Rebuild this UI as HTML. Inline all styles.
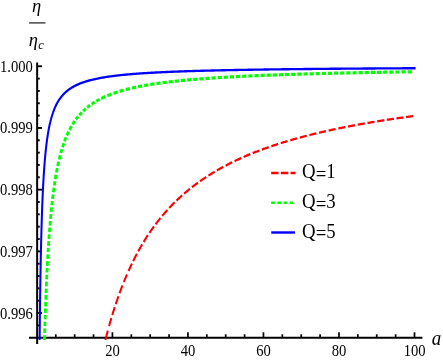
<!DOCTYPE html>
<html><head><meta charset="utf-8"><style>
html,body{margin:0;padding:0;background:#fff;overflow:hidden;}
svg{display:block;font-family:"Liberation Serif",serif;}
</style></head><body>
<svg width="443" height="360" viewBox="0 0 443 360">
<rect width="443" height="360" fill="#fff"/>
<g stroke="#000" stroke-width="2.0" fill="none">
<line x1="29" y1="337.7" x2="422.4" y2="337.7"/>
<line x1="37.15" y1="62.5" x2="37.15" y2="344"/>
<line x1="55.78" y1="337.7" x2="55.78" y2="334.3" stroke-width="1.7"/>
<line x1="74.66" y1="337.7" x2="74.66" y2="334.3" stroke-width="1.7"/>
<line x1="93.54" y1="337.7" x2="93.54" y2="334.3" stroke-width="1.7"/>
<line x1="112.42" y1="337.7" x2="112.42" y2="332.3" stroke-width="1.7"/>
<line x1="131.30" y1="337.7" x2="131.30" y2="334.3" stroke-width="1.7"/>
<line x1="150.18" y1="337.7" x2="150.18" y2="334.3" stroke-width="1.7"/>
<line x1="169.06" y1="337.7" x2="169.06" y2="334.3" stroke-width="1.7"/>
<line x1="187.94" y1="337.7" x2="187.94" y2="332.3" stroke-width="1.7"/>
<line x1="206.82" y1="337.7" x2="206.82" y2="334.3" stroke-width="1.7"/>
<line x1="225.70" y1="337.7" x2="225.70" y2="334.3" stroke-width="1.7"/>
<line x1="244.58" y1="337.7" x2="244.58" y2="334.3" stroke-width="1.7"/>
<line x1="263.46" y1="337.7" x2="263.46" y2="332.3" stroke-width="1.7"/>
<line x1="282.34" y1="337.7" x2="282.34" y2="334.3" stroke-width="1.7"/>
<line x1="301.22" y1="337.7" x2="301.22" y2="334.3" stroke-width="1.7"/>
<line x1="320.10" y1="337.7" x2="320.10" y2="334.3" stroke-width="1.7"/>
<line x1="338.98" y1="337.7" x2="338.98" y2="332.3" stroke-width="1.7"/>
<line x1="357.86" y1="337.7" x2="357.86" y2="334.3" stroke-width="1.7"/>
<line x1="376.74" y1="337.7" x2="376.74" y2="334.3" stroke-width="1.7"/>
<line x1="395.62" y1="337.7" x2="395.62" y2="334.3" stroke-width="1.7"/>
<line x1="414.50" y1="337.7" x2="414.50" y2="332.3" stroke-width="1.7"/>
<line x1="37.15" y1="66.25" x2="42.05" y2="66.25" stroke-width="1.9"/>
<line x1="37.15" y1="78.59" x2="39.75" y2="78.59" stroke-width="1.9"/>
<line x1="37.15" y1="90.93" x2="39.75" y2="90.93" stroke-width="1.9"/>
<line x1="37.15" y1="103.27" x2="39.75" y2="103.27" stroke-width="1.9"/>
<line x1="37.15" y1="115.61" x2="39.75" y2="115.61" stroke-width="1.9"/>
<line x1="37.15" y1="127.95" x2="42.05" y2="127.95" stroke-width="1.9"/>
<line x1="37.15" y1="140.29" x2="39.75" y2="140.29" stroke-width="1.9"/>
<line x1="37.15" y1="152.63" x2="39.75" y2="152.63" stroke-width="1.9"/>
<line x1="37.15" y1="164.97" x2="39.75" y2="164.97" stroke-width="1.9"/>
<line x1="37.15" y1="177.31" x2="39.75" y2="177.31" stroke-width="1.9"/>
<line x1="37.15" y1="189.65" x2="42.05" y2="189.65" stroke-width="1.9"/>
<line x1="37.15" y1="201.99" x2="39.75" y2="201.99" stroke-width="1.9"/>
<line x1="37.15" y1="214.33" x2="39.75" y2="214.33" stroke-width="1.9"/>
<line x1="37.15" y1="226.67" x2="39.75" y2="226.67" stroke-width="1.9"/>
<line x1="37.15" y1="239.01" x2="39.75" y2="239.01" stroke-width="1.9"/>
<line x1="37.15" y1="251.35" x2="42.05" y2="251.35" stroke-width="1.9"/>
<line x1="37.15" y1="263.69" x2="39.75" y2="263.69" stroke-width="1.9"/>
<line x1="37.15" y1="276.03" x2="39.75" y2="276.03" stroke-width="1.9"/>
<line x1="37.15" y1="288.37" x2="39.75" y2="288.37" stroke-width="1.9"/>
<line x1="37.15" y1="300.71" x2="39.75" y2="300.71" stroke-width="1.9"/>
<line x1="37.15" y1="313.05" x2="42.05" y2="313.05" stroke-width="1.9"/>
<line x1="37.15" y1="325.39" x2="39.75" y2="325.39" stroke-width="1.9"/>
</g>
<g fill="none" stroke-linejoin="round" transform="scale(1,1.14)">
<path d="M105.41,298.25 L105.63,297.49 L105.84,296.74 L106.06,295.99 L106.28,295.24 L106.50,294.49 L106.72,293.74 L106.94,292.99 L107.17,292.25 L107.39,291.50 L107.62,290.75 L107.85,290.00 M109.05,286.13 L109.26,285.48 L109.46,284.84 L109.67,284.20 L109.88,283.55 L110.08,282.91 L110.29,282.27 L110.50,281.63 L110.72,280.98 L110.93,280.34 L111.14,279.70 L111.36,279.06 M112.26,276.41 L112.48,275.78 L112.71,275.14 L112.93,274.50 L113.15,273.86 L113.38,273.23 L113.61,272.59 L113.83,271.95 L114.06,271.32 L114.29,270.68 L114.53,270.05 L114.76,269.42 M115.74,266.80 L115.97,266.17 L116.21,265.54 L116.46,264.91 L116.70,264.28 L116.94,263.65 L117.19,263.02 L117.44,262.39 L117.68,261.76 L117.93,261.14 L118.18,260.51 L118.44,259.89 M119.53,257.21 L119.79,256.58 L120.05,255.96 L120.31,255.34 L120.58,254.72 L120.84,254.10 L121.11,253.48 L121.38,252.86 L121.64,252.25 L121.91,251.63 L122.19,251.01 L122.46,250.40 M123.82,247.38 L124.10,246.77 L124.39,246.16 L124.67,245.55 L124.96,244.94 L125.25,244.33 L125.54,243.72 L125.83,243.12 L126.12,242.51 L126.41,241.91 L126.71,241.30 L127.00,240.70 M128.49,237.75 L128.79,237.15 L129.10,236.55 L129.41,235.95 L129.72,235.36 L130.03,234.76 L130.35,234.17 L130.66,233.58 L130.98,232.99 L131.30,232.39 L131.62,231.81 L131.94,231.22 M133.16,229.02 L133.49,228.43 L133.83,227.85 L134.16,227.27 L134.49,226.69 L134.83,226.11 L135.17,225.53 L135.51,224.95 L135.85,224.37 L136.19,223.80 L136.54,223.22 L136.89,222.65 M138.20,220.51 L138.56,219.94 L138.92,219.38 L139.28,218.81 L139.64,218.25 L140.00,217.69 L140.36,217.13 L140.73,216.57 L141.09,216.01 L141.46,215.45 L141.83,214.89 L142.21,214.34 M143.62,212.27 L144.00,211.72 L144.39,211.17 L144.77,210.63 L145.16,210.08 L145.54,209.54 L145.93,209.00 L146.33,208.46 L146.72,207.92 L147.11,207.38 L147.51,206.85 L147.91,206.31 M149.42,204.32 L149.83,203.79 L150.24,203.27 L150.65,202.74 L151.06,202.22 L151.48,201.70 L151.89,201.18 L152.31,200.66 L152.73,200.15 L153.15,199.63 L153.57,199.12 L154.00,198.61 M155.64,196.66 L156.08,196.16 L156.51,195.66 L156.95,195.16 L157.39,194.66 L157.83,194.16 L158.27,193.67 L158.71,193.17 L159.16,192.68 L159.60,192.19 L160.05,191.70 L160.50,191.21 M162.24,189.37 L162.70,188.89 L163.16,188.41 L163.62,187.94 L164.09,187.46 L164.55,186.99 L165.02,186.52 L165.49,186.05 L165.96,185.59 L166.43,185.13 L166.90,184.66 L167.38,184.20 M169.21,182.46 L169.69,182.00 L170.18,181.55 L170.66,181.11 L171.15,180.66 L171.64,180.22 L172.13,179.77 L172.62,179.33 L173.11,178.89 L173.61,178.46 L174.10,178.02 L174.60,177.59 M176.49,175.97 L177.00,175.55 L177.50,175.12 L178.01,174.70 L178.52,174.28 L179.03,173.87 L179.54,173.45 L180.05,173.04 L180.56,172.63 L181.08,172.22 L181.60,171.81 L182.11,171.41 M184.08,169.89 L184.61,169.49 L185.13,169.10 L185.66,168.71 L186.19,168.32 L186.72,167.93 L187.25,167.54 L187.78,167.15 L188.31,166.77 L188.84,166.39 L189.38,166.01 L189.92,165.63 M191.95,164.22 L192.49,163.85 L193.04,163.48 L193.58,163.11 L194.13,162.75 L194.67,162.39 L195.22,162.03 L195.77,161.67 L196.32,161.31 L196.87,160.96 L197.42,160.60 L197.97,160.25 M200.07,158.94 L200.63,158.60 L201.18,158.26 L201.74,157.92 L202.30,157.58 L202.86,157.24 L203.43,156.91 L203.99,156.57 L204.55,156.24 L205.12,155.91 L205.68,155.59 L206.25,155.26 M208.40,154.04 L208.97,153.73 L209.54,153.41 L210.11,153.09 L210.68,152.78 L211.26,152.47 L211.83,152.16 L212.41,151.85 L212.98,151.55 L213.56,151.24 L214.14,150.94 L214.71,150.64 M216.91,149.51 L217.49,149.21 L218.07,148.92 L218.65,148.63 L219.24,148.34 L219.82,148.05 L220.41,147.76 L220.99,147.48 L221.58,147.20 L222.17,146.91 L222.75,146.63 L223.34,146.35 M225.68,145.26 L226.27,144.99 L226.86,144.72 L227.45,144.45 L228.05,144.18 L228.64,143.92 L229.23,143.65 L229.83,143.39 L230.42,143.12 L231.02,142.86 L231.62,142.60 L232.21,142.35 M234.58,141.34 L235.18,141.09 L235.78,140.84 L236.38,140.59 L236.98,140.34 L237.58,140.09 L238.18,139.85 L238.79,139.60 L239.39,139.36 L239.99,139.12 L240.60,138.88 L241.20,138.64 M243.60,137.71 L244.20,137.47 L244.81,137.24 L245.42,137.01 L246.02,136.78 L246.63,136.56 L247.24,136.33 L247.85,136.10 L248.46,135.88 L249.07,135.65 L249.68,135.43 L250.29,135.21 M252.70,134.35 L253.32,134.13 L253.93,133.92 L254.54,133.70 L255.16,133.49 L255.77,133.28 L256.38,133.07 L257.00,132.86 L257.61,132.65 L258.23,132.45 L258.84,132.24 L259.46,132.04 M261.89,131.23 L262.51,131.03 L263.13,130.84 L263.74,130.64 L264.36,130.44 L264.98,130.24 L265.60,130.05 L266.22,129.86 L266.84,129.66 L267.46,129.47 L268.07,129.28 L268.69,129.09 M271.30,128.30 L271.92,128.12 L272.54,127.93 L273.16,127.75 L273.78,127.57 L274.40,127.38 L275.02,127.20 L275.65,127.02 L276.27,126.84 L276.89,126.66 L277.52,126.49 L278.14,126.31 M280.75,125.58 L281.38,125.41 L282.00,125.24 L282.63,125.06 L283.25,124.89 L283.88,124.73 L284.50,124.56 L285.13,124.39 L285.75,124.22 L286.38,124.06 L287.01,123.89 L287.63,123.73 M290.26,123.05 L290.89,122.89 L291.52,122.73 L292.14,122.57 L292.77,122.41 L293.40,122.25 L294.03,122.10 L294.66,121.94 L295.28,121.79 L295.91,121.63 L296.54,121.48 L297.17,121.32 M299.81,120.69 L300.44,120.54 L301.07,120.39 L301.70,120.24 L302.33,120.10 L302.96,119.95 L303.59,119.80 L304.22,119.66 L304.85,119.51 L305.48,119.37 L306.11,119.22 L306.74,119.08 M309.39,118.49 L310.02,118.35 L310.65,118.21 L311.28,118.07 L311.92,117.93 L312.55,117.80 L313.18,117.66 L313.81,117.52 L314.45,117.39 L315.08,117.25 L315.71,117.12 L316.34,116.99 M319.00,116.43 L319.63,116.30 L320.27,116.17 L320.90,116.04 L321.53,115.91 L322.17,115.78 L322.80,115.66 L323.43,115.53 L324.07,115.40 L324.70,115.28 L325.34,115.15 L325.97,115.03 M328.65,114.50 L329.28,114.38 L329.92,114.26 L330.55,114.14 L331.19,114.02 L331.82,113.90 L332.46,113.78 L333.10,113.66 L333.73,113.54 L334.37,113.42 L335.00,113.30 L335.64,113.18 M338.32,112.69 L338.96,112.58 L339.59,112.46 L340.23,112.35 L340.87,112.24 L341.50,112.12 L342.14,112.01 L342.78,111.90 L343.41,111.79 L344.05,111.68 L344.69,111.57 L345.32,111.46 M348.01,110.99 L348.65,110.89 L349.28,110.78 L349.92,110.67 L350.56,110.56 L351.20,110.46 L351.83,110.35 L352.47,110.25 L353.11,110.14 L353.75,110.04 L354.38,109.93 L355.02,109.83 M357.71,109.39 L358.35,109.29 L358.99,109.19 L359.63,109.09 L360.27,108.99 L360.91,108.89 L361.54,108.79 L362.18,108.69 L362.82,108.59 L363.46,108.49 L364.10,108.39 L364.74,108.30 M367.48,107.88 L368.12,107.78 L368.76,107.69 L369.40,107.59 L370.04,107.50 L370.68,107.40 L371.32,107.31 L371.96,107.22 L372.60,107.12 L373.23,107.03 L373.87,106.94 L374.51,106.84 M377.26,106.45 L377.90,106.36 L378.54,106.27 L379.18,106.18 L379.82,106.09 L380.46,106.00 L381.10,105.91 L381.74,105.82 L382.38,105.73 L383.02,105.65 L383.66,105.56 L384.30,105.47 M386.85,105.13 L387.49,105.04 L388.13,104.95 L388.77,104.87 L389.41,104.78 L390.05,104.70 L390.69,104.61 L391.33,104.53 L391.98,104.45 L392.62,104.36 L393.26,104.28 L393.90,104.20 M396.45,103.87 L397.09,103.79 L397.73,103.71 L398.37,103.63 L399.01,103.55 L399.66,103.47 L400.30,103.39 L400.94,103.31 L401.58,103.23 L402.22,103.15 L402.86,103.07 L403.50,102.99 M406.06,102.68 L406.70,102.60 L407.34,102.52 L407.98,102.45 L408.62,102.37 L409.26,102.30 L409.91,102.22 L410.55,102.14 L411.19,102.07 L411.83,101.99 L412.47,101.92 L413.11,101.84" stroke="#ff0000" stroke-width="2.0"/>
<path d="M44.47,298.25 L44.49,297.66 L44.51,297.07 L44.53,296.48 L44.55,295.89 L44.57,295.31 L44.59,294.72 L44.61,294.13 M44.67,292.15 L44.69,291.56 L44.71,290.97 L44.73,290.39 L44.75,289.80 L44.77,289.21 L44.79,288.62 L44.81,288.03 M44.88,286.05 L44.90,285.49 L44.92,284.92 L44.94,284.35 L44.96,283.79 L44.98,283.22 L45.00,282.65 L45.02,282.09 M45.09,280.18 L45.11,279.63 L45.13,279.08 L45.15,278.53 L45.17,277.98 L45.19,277.43 L45.21,276.88 L45.24,276.33 M45.31,274.47 L45.33,273.92 L45.35,273.37 L45.37,272.82 L45.39,272.27 L45.41,271.72 L45.44,271.17 L45.46,270.62 M45.53,268.77 L45.56,268.21 L45.58,267.64 L45.60,267.07 L45.63,266.50 L45.65,265.94 L45.68,265.37 L45.70,264.80 M45.78,262.89 L45.81,262.33 L45.83,261.76 L45.86,261.19 L45.88,260.63 L45.91,260.06 L45.93,259.49 L45.96,258.93 M46.04,257.02 L46.07,256.46 L46.10,255.90 L46.12,255.34 L46.15,254.78 L46.17,254.23 L46.20,253.67 L46.23,253.11 M46.32,251.23 L46.35,250.64 L46.38,250.04 L46.41,249.45 L46.44,248.86 L46.47,248.27 L46.50,247.68 L46.53,247.08 M46.63,245.09 L46.66,244.50 L46.69,243.92 L46.72,243.34 L46.75,242.75 L46.78,242.17 L46.81,241.59 L46.85,241.00 M46.95,239.04 L46.98,238.47 L47.02,237.90 L47.05,237.33 L47.08,236.77 L47.11,236.20 L47.15,235.63 L47.18,235.07 M47.29,233.16 L47.33,232.57 L47.36,231.99 L47.40,231.41 L47.43,230.82 L47.47,230.24 L47.50,229.66 L47.54,229.07 M47.66,227.11 L47.70,226.54 L47.74,225.97 L47.77,225.40 L47.81,224.84 L47.85,224.27 L47.88,223.70 L47.92,223.14 M48.05,221.23 L48.09,220.69 L48.13,220.15 L48.16,219.60 L48.20,219.06 L48.24,218.52 L48.28,217.98 L48.32,217.44 M48.45,215.61 L48.49,215.04 L48.53,214.46 L48.58,213.89 L48.62,213.31 L48.66,212.74 L48.71,212.16 L48.75,211.59 M48.90,209.65 L48.95,209.06 L49.00,208.46 L49.05,207.87 L49.09,207.28 L49.14,206.69 L49.19,206.10 L49.24,205.50 M49.41,203.51 L49.46,202.96 L49.51,202.41 L49.55,201.86 L49.60,201.31 L49.65,200.76 L49.70,200.21 L49.75,199.66 M49.92,197.81 L49.97,197.24 L50.03,196.67 L50.08,196.11 L50.14,195.54 L50.19,194.97 L50.25,194.41 L50.30,193.84 M50.49,191.93 L50.55,191.35 L50.61,190.76 L50.67,190.18 L50.73,189.59 L50.80,189.01 L50.86,188.43 L50.92,187.84 M51.14,185.88 L51.20,185.31 L51.26,184.74 L51.33,184.18 L51.39,183.61 L51.46,183.04 L51.53,182.48 L51.59,181.91 M51.82,180.00 L51.89,179.48 L51.95,178.95 L52.02,178.43 L52.08,177.90 L52.15,177.38 L52.22,176.85 L52.29,176.33 M52.52,174.56 L52.60,173.99 L52.67,173.43 L52.75,172.86 L52.83,172.29 L52.91,171.73 L52.99,171.16 L53.07,170.59 M53.35,168.68 L53.43,168.12 L53.52,167.55 L53.61,166.98 L53.69,166.42 L53.78,165.85 L53.87,165.28 L53.96,164.72 M54.27,162.81 L54.36,162.27 L54.46,161.72 L54.55,161.18 L54.64,160.64 L54.73,160.10 L54.83,159.56 L54.93,159.02 M55.26,157.19 L55.36,156.63 L55.47,156.06 L55.58,155.49 L55.69,154.92 L55.80,154.36 L55.91,153.79 L56.02,153.22 M56.42,151.32 L56.53,150.76 L56.65,150.21 L56.77,149.66 L56.89,149.11 L57.01,148.56 L57.13,148.01 L57.26,147.46 M57.69,145.61 L57.82,145.06 L57.95,144.51 L58.09,143.96 L58.22,143.41 L58.36,142.86 L58.50,142.31 L58.64,141.76 M59.14,139.91 L59.28,139.37 L59.44,138.83 L59.59,138.28 L59.74,137.74 L59.90,137.20 L60.06,136.66 L60.22,136.12 M60.77,134.30 L60.93,133.80 L61.09,133.31 L61.25,132.81 L61.41,132.32 L61.58,131.82 L61.74,131.33 L61.91,130.83 M62.50,129.17 L62.68,128.67 L62.87,128.16 L63.06,127.66 L63.25,127.15 L63.44,126.65 L63.64,126.14 L63.84,125.64 M64.53,123.95 L64.74,123.46 L64.95,122.96 L65.17,122.46 L65.39,121.97 L65.61,121.47 L65.83,120.98 L66.06,120.49 M66.86,118.83 L67.10,118.35 L67.34,117.87 L67.59,117.39 L67.84,116.91 L68.09,116.43 L68.35,115.95 L68.61,115.48 M69.51,113.88 L69.79,113.42 L70.07,112.96 L70.35,112.49 L70.63,112.03 L70.92,111.58 L71.21,111.12 L71.51,110.67 M72.54,109.15 L72.84,108.73 L73.14,108.30 L73.45,107.88 L73.76,107.47 L74.07,107.05 L74.39,106.64 L74.71,106.22 M75.82,104.85 L76.14,104.47 L76.46,104.09 L76.79,103.72 L77.12,103.34 L77.45,102.97 L77.79,102.60 L78.13,102.23 M79.30,101.01 L79.65,100.66 L80.00,100.31 L80.36,99.97 L80.72,99.63 L81.08,99.29 L81.44,98.95 L81.81,98.61 M83.08,97.50 L83.46,97.18 L83.84,96.86 L84.23,96.54 L84.62,96.23 L85.02,95.92 L85.41,95.61 L85.81,95.30 M87.18,94.29 L87.59,94.00 L88.00,93.71 L88.42,93.42 L88.84,93.13 L89.26,92.85 L89.69,92.57 L90.11,92.30 M91.57,91.39 L92.01,91.12 L92.45,90.86 L92.90,90.60 L93.35,90.34 L93.79,90.08 L94.25,89.83 L94.70,89.58 M96.24,88.76 L96.72,88.52 L97.19,88.28 L97.67,88.04 L98.15,87.81 L98.63,87.58 L99.12,87.35 L99.60,87.12 M101.25,86.38 L101.83,86.13 L102.42,85.88 L103.00,85.63 L103.59,85.39 L104.18,85.15 L104.77,84.91 L105.36,84.68 M107.38,83.92 L107.96,83.71 L108.55,83.50 L109.14,83.29 L109.72,83.09 L110.31,82.89 L110.91,82.69 L111.50,82.50 M113.50,81.86 L114.09,81.68 L114.68,81.50 L115.27,81.32 L115.86,81.15 L116.45,80.98 L117.04,80.81 L117.63,80.64 M119.63,80.10 L120.22,79.94 L120.81,79.79 L121.40,79.64 L121.99,79.49 L122.58,79.34 L123.17,79.20 L123.76,79.05 M125.76,78.58 L126.35,78.45 L126.94,78.32 L127.53,78.18 L128.12,78.05 L128.71,77.93 L129.30,77.80 L129.89,77.67 M131.88,77.26 L132.47,77.15 L133.06,77.03 L133.65,76.91 L134.24,76.80 L134.83,76.69 L135.43,76.57 L136.02,76.46 M138.01,76.10 L138.60,76.00 L139.19,75.90 L139.78,75.79 L140.37,75.69 L140.96,75.59 L141.55,75.49 L142.14,75.40 M144.14,75.07 L144.73,74.98 L145.32,74.89 L145.91,74.80 L146.50,74.71 L147.09,74.62 L147.68,74.53 L148.27,74.45 M150.27,74.16 L150.86,74.08 L151.45,73.99 L152.04,73.91 L152.63,73.83 L153.22,73.75 L153.81,73.67 L154.40,73.59 M156.39,73.34 L156.98,73.26 L157.57,73.19 L158.16,73.11 L158.75,73.04 L159.35,72.97 L159.94,72.90 L160.53,72.83 M162.52,72.59 L163.11,72.53 L163.70,72.46 L164.29,72.39 L164.88,72.33 L165.47,72.26 L166.06,72.20 L166.65,72.13 M168.65,71.92 L169.24,71.86 L169.83,71.80 L170.42,71.74 L171.01,71.68 L171.60,71.62 L172.19,71.56 L172.78,71.50 M174.77,71.31 L175.36,71.25 L175.96,71.19 L176.55,71.14 L177.14,71.08 L177.73,71.03 L178.32,70.98 L178.91,70.92 M180.90,70.75 L181.49,70.69 L182.08,70.64 L182.67,70.59 L183.26,70.54 L183.85,70.49 L184.45,70.44 L185.04,70.39 M187.03,70.23 L187.62,70.18 L188.21,70.13 L188.80,70.09 L189.39,70.04 L189.98,70.00 L190.57,69.95 L191.16,69.90 M193.15,69.75 L193.75,69.71 L194.34,69.67 L194.93,69.62 L195.52,69.58 L196.11,69.54 L196.70,69.50 L197.29,69.45 M199.28,69.32 L199.87,69.27 L200.46,69.23 L201.05,69.19 L201.64,69.15 L202.24,69.12 L202.83,69.08 L203.42,69.04 M205.41,68.91 L206.00,68.87 L206.59,68.83 L207.18,68.80 L207.77,68.76 L208.36,68.72 L208.95,68.69 L209.54,68.65 M211.54,68.53 L212.13,68.49 L212.72,68.46 L213.31,68.42 L213.90,68.39 L214.49,68.36 L215.08,68.32 L215.67,68.29 M217.66,68.18 L218.25,68.14 L218.84,68.11 L219.44,68.08 L220.03,68.05 L220.62,68.01 L221.21,67.98 L221.80,67.95 M223.79,67.85 L224.38,67.82 L224.97,67.79 L225.56,67.75 L226.15,67.72 L226.74,67.69 L227.33,67.67 L227.93,67.64 M229.92,67.54 L230.51,67.51 L231.10,67.48 L231.69,67.45 L232.28,67.42 L232.87,67.40 L233.46,67.37 L234.05,67.34 M236.04,67.25 L236.63,67.22 L237.23,67.19 L237.82,67.17 L238.41,67.14 L239.00,67.11 L239.59,67.09 L240.18,67.06 M242.17,66.97 L242.76,66.95 L243.35,66.92 L243.94,66.90 L244.53,66.87 L245.12,66.85 L245.72,66.82 L246.31,66.80 M248.30,66.72 L248.89,66.69 L249.48,66.67 L250.07,66.65 L250.66,66.62 L251.25,66.60 L251.84,66.58 L252.43,66.55 M254.42,66.48 L255.02,66.45 L255.61,66.43 L256.20,66.41 L256.79,66.39 L257.38,66.36 L257.97,66.34 L258.56,66.32 M260.55,66.25 L261.14,66.23 L261.73,66.20 L262.32,66.18 L262.92,66.16 L263.51,66.14 L264.10,66.12 L264.69,66.10 M266.68,66.03 L267.27,66.01 L267.86,65.99 L268.45,65.97 L269.04,65.95 L269.63,65.93 L270.22,65.91 L270.81,65.89 M272.81,65.82 L273.40,65.80 L273.99,65.79 L274.58,65.77 L275.17,65.75 L275.76,65.73 L276.35,65.71 L276.94,65.69 M278.93,65.63 L279.52,65.61 L280.11,65.59 L280.71,65.57 L281.30,65.56 L281.89,65.54 L282.48,65.52 L283.07,65.50 M285.06,65.44 L285.65,65.43 L286.24,65.41 L286.83,65.39 L287.42,65.37 L288.01,65.36 L288.60,65.34 L289.20,65.32 M291.19,65.27 L291.78,65.25 L292.37,65.23 L292.96,65.22 L293.55,65.20 L294.14,65.18 L294.73,65.17 L295.32,65.15 M297.31,65.10 L297.90,65.08 L298.50,65.07 L299.09,65.05 L299.68,65.04 L300.27,65.02 L300.86,65.00 L301.45,64.99 M303.44,64.94 L304.03,64.92 L304.62,64.91 L305.21,64.89 L305.80,64.88 L306.40,64.86 L306.99,64.85 L307.58,64.83 M309.57,64.78 L310.16,64.77 L310.75,64.76 L311.34,64.74 L311.93,64.73 L312.52,64.71 L313.11,64.70 L313.70,64.69 M315.69,64.64 L316.29,64.62 L316.88,64.61 L317.47,64.60 L318.06,64.58 L318.65,64.57 L319.24,64.56 L319.83,64.54 M321.82,64.50 L322.41,64.48 L323.00,64.47 L323.59,64.46 L324.19,64.45 L324.78,64.43 L325.37,64.42 L325.96,64.41 M327.95,64.36 L328.54,64.35 L329.13,64.34 L329.72,64.33 L330.31,64.31 L330.90,64.30 L331.49,64.29 L332.08,64.28 M334.08,64.23 L334.67,64.22 L335.26,64.21 L335.85,64.20 L336.44,64.19 L337.03,64.17 L337.62,64.16 L338.21,64.15 M340.20,64.11 L340.79,64.10 L341.38,64.09 L341.98,64.08 L342.57,64.06 L343.16,64.05 L343.75,64.04 L344.34,64.03 M346.33,63.99 L346.92,63.98 L347.51,63.97 L348.10,63.96 L348.69,63.95 L349.28,63.94 L349.87,63.93 L350.47,63.91 M352.46,63.88 L353.05,63.87 L353.64,63.86 L354.23,63.85 L354.82,63.84 L355.41,63.82 L356.00,63.81 L356.59,63.80 M358.58,63.77 L359.17,63.76 L359.77,63.75 L360.36,63.74 L360.95,63.73 L361.54,63.72 L362.13,63.71 L362.72,63.70 M364.71,63.66 L365.30,63.65 L365.89,63.64 L366.48,63.63 L367.07,63.62 L367.67,63.61 L368.26,63.60 L368.85,63.59 M370.84,63.56 L371.43,63.55 L372.02,63.54 L372.61,63.53 L373.20,63.52 L373.79,63.51 L374.38,63.50 L374.97,63.49 M376.97,63.46 L377.56,63.45 L378.15,63.44 L378.74,63.43 L379.33,63.43 L379.92,63.42 L380.51,63.41 L381.10,63.40 M383.09,63.37 L383.68,63.36 L384.27,63.35 L384.86,63.34 L385.46,63.33 L386.05,63.32 L386.64,63.31 L387.23,63.31 M389.22,63.28 L389.81,63.27 L390.40,63.26 L390.99,63.25 L391.58,63.24 L392.17,63.23 L392.76,63.23 L393.35,63.22 M395.35,63.19 L395.94,63.18 L396.53,63.17 L397.12,63.16 L397.71,63.16 L398.30,63.15 L398.89,63.14 L399.48,63.13 M401.47,63.10 L402.06,63.10 L402.65,63.09 L403.25,63.08 L403.84,63.07 L404.43,63.06 L405.02,63.06 L405.61,63.05 M407.60,63.02 L408.19,63.01 L408.78,63.01 L409.37,63.00 L409.96,62.99 L410.56,62.98 L411.15,62.97 L411.74,62.97" stroke="#00ff00" stroke-width="2.8"/>
<path d="M39.62,298.25 L39.63,297.56 L39.73,289.58 L39.82,282.11 L39.91,275.12 L40.01,268.54 L40.10,262.35 L40.20,256.52 L40.29,251.01 L40.38,245.79 L40.48,240.86 L40.57,236.17 L40.67,231.72 L40.76,227.49 L40.86,223.45 L40.95,219.61 L41.04,215.94 L41.14,212.43 L41.23,209.08 L41.33,205.87 L41.42,202.79 L41.51,199.84 L41.61,197.00 L41.70,194.28 L41.80,191.66 L41.89,189.14 L41.99,186.72 L42.08,184.38 L42.17,182.12 L42.27,179.95 L42.36,177.85 L42.46,175.82 L42.55,173.86 L42.64,171.96 L42.74,170.12 L42.83,168.35 L42.93,166.62 L43.02,164.95 L43.12,163.34 L43.21,161.76 L43.30,160.24 L43.40,158.76 L43.49,157.32 L43.59,155.93 L43.68,154.57 L43.77,153.25 L43.87,151.96 L43.96,150.71 L44.06,149.49 L44.15,148.30 L44.25,147.15 L44.34,146.02 L44.43,144.92 L44.53,143.85 L44.62,142.81 L44.72,141.79 L44.81,140.79 L44.90,139.82 L45.00,138.87 L45.09,137.94 L45.19,137.03 L45.28,136.14 L45.38,135.28 L45.47,134.43 L45.56,133.60 L45.66,132.79 L45.75,131.99 L45.85,131.22 L45.94,130.46 L46.03,129.71 L46.13,128.98 L46.22,128.26 L46.32,127.56 L46.41,126.87 L46.51,126.20 L46.60,125.54 L46.69,124.89 L46.79,124.25 L46.88,123.63 L46.98,123.02 L47.07,122.42 L47.16,121.83 L47.26,121.25 L47.35,120.68 L47.45,120.12 L47.54,119.57 L47.64,119.03 L47.73,118.50 L47.82,117.98 L47.92,117.47 L48.01,116.97 L48.11,116.47 L48.20,115.99 L48.29,115.51 L48.39,115.04 L48.48,114.58 L48.58,114.12 L48.67,113.67 L48.77,113.23 L48.86,112.80 L48.95,112.37 L49.05,111.95 L49.14,111.54 L49.24,111.13 L49.33,110.73 L49.42,110.33 L49.52,109.94 L49.61,109.56 L49.71,109.18 L49.80,108.81 L49.90,108.44 L49.99,108.08 L50.08,107.72 L50.18,107.37 L50.27,107.02 L50.37,106.68 L50.46,106.34 L50.55,106.01 L50.65,105.68 L50.74,105.36 L50.84,105.04 L50.93,104.72 L51.02,104.41 L51.12,104.11 L51.21,103.80 L51.31,103.51 L51.40,103.21 L51.50,102.92 L51.59,102.63 L51.68,102.35 L51.78,102.07 L51.87,101.79 L51.97,101.52 L52.06,101.25 L52.15,100.98 L52.25,100.72 L52.34,100.46 L52.44,100.20 L52.53,99.95 L52.63,99.70 L52.72,99.45 L52.81,99.21 L52.91,98.97 L53.00,98.73 L53.10,98.49 L53.19,98.26 L53.28,98.03 L53.38,97.80 L53.47,97.57 L53.57,97.35 L53.66,97.13 L53.76,96.91 L53.85,96.70 L53.94,96.48 L54.04,96.27 L54.13,96.06 L54.23,95.86 L54.32,95.65 L54.41,95.45 L54.51,95.25 L54.60,95.06 L54.70,94.86 L54.79,94.67 L54.89,94.47 L54.98,94.29 L55.07,94.10 L55.17,93.91 L55.26,93.73 L55.36,93.55 L55.45,93.37 L55.54,93.19 L55.64,93.01 L55.73,92.84 L55.83,92.67 L55.92,92.49 L56.02,92.33 L56.11,92.16 L56.20,91.99 L56.30,91.83 L56.39,91.66 L56.49,91.50 L56.58,91.34 L56.67,91.19 L56.77,91.03 L56.86,90.87 L56.96,90.72 L57.05,90.57 L57.15,90.42 L57.24,90.27 L57.33,90.12 L57.43,89.97 L57.52,89.83 L57.62,89.68 L57.71,89.54 L57.80,89.40 L57.90,89.26 L57.99,89.12 L58.09,88.98 L58.18,88.84 L58.28,88.71 L58.37,88.57 L58.46,88.44 L58.56,88.31 L58.65,88.18 L58.75,88.05 L58.84,87.92 L58.93,87.79 L59.03,87.67 L59.12,87.54 L59.22,87.42 L59.31,87.29 L59.41,87.17 L59.50,87.05 L59.59,86.93 L59.69,86.81 L59.78,86.69 L59.88,86.58 L59.97,86.46 L60.06,86.35 L60.16,86.23 L60.25,86.12 L60.35,86.01 L60.44,85.89 L60.54,85.78 L60.63,85.67 L60.72,85.56 L60.82,85.46 L60.91,85.35 L61.01,85.24 L61.10,85.14 L61.19,85.03 L61.29,84.93 L61.38,84.83 L61.48,84.72 L61.57,84.62 L61.67,84.52 L61.76,84.42 L61.85,84.32 L61.95,84.22 L62.04,84.13 L62.14,84.03 L62.23,83.93 L62.32,83.84 L62.42,83.74 L62.51,83.65 L62.61,83.55 L62.70,83.46 L62.80,83.37 L62.89,83.28 L62.98,83.19 L63.08,83.10 L63.17,83.01 L63.27,82.92 L63.36,82.83 L63.45,82.74 L63.55,82.65 L63.64,82.57 L63.74,82.48 L63.83,82.40 L63.93,82.31 L64.02,82.23 L64.11,82.15 L64.21,82.06 L64.30,81.98 L64.40,81.90 L64.49,81.82 L64.58,81.74 L64.68,81.66 L64.77,81.58 L64.87,81.50 L64.96,81.42 L65.06,81.34 L65.15,81.26 L65.24,81.19 L65.34,81.11 L65.43,81.03 L65.53,80.96 L65.62,80.88 L65.71,80.81 L65.81,80.74 L65.90,80.66 L66.00,80.59 L66.09,80.52 L66.19,80.45 L66.28,80.37 L66.37,80.30 L66.47,80.23 L66.56,80.16 L66.66,80.09 L66.75,80.02 L66.84,79.95 L66.94,79.89 L67.03,79.82 L67.13,79.75 L67.22,79.68 L67.32,79.62 L67.41,79.55 L67.50,79.48 L67.60,79.42 L67.69,79.35 L67.79,79.29 L67.88,79.22 L67.97,79.16 L68.07,79.10 L68.16,79.03 L68.26,78.97 L68.35,78.91 L68.45,78.85 L68.54,78.78 L68.63,78.72 L68.73,78.66 L68.82,78.60 L68.92,78.54 L69.01,78.48 L69.10,78.42 L69.20,78.36 L69.29,78.30 L69.39,78.24 L69.48,78.19 L69.58,78.13 L69.67,78.07 L69.76,78.01 L69.86,77.96 L69.95,77.90 L70.05,77.84 L70.14,77.79 L70.23,77.73 L70.33,77.68 L70.42,77.62 L70.52,77.57 L70.61,77.51 L70.71,77.46 L70.80,77.41 L70.89,77.35 L70.99,77.30 L71.08,77.25 L71.18,77.19 L71.27,77.14 L71.36,77.09 L71.46,77.04 L71.55,76.99 L71.65,76.94 L71.74,76.88 L71.84,76.83 L71.93,76.78 L72.02,76.73 L72.12,76.68 L72.21,76.63 L72.31,76.58 L72.40,76.54 L72.49,76.49 L72.59,76.44 L72.68,76.39 L72.78,76.34 L72.87,76.29 L72.97,76.25 L73.06,76.20 L73.15,76.15 L73.25,76.11 L73.34,76.06 L73.44,76.01 L73.53,75.97 L73.62,75.92 L73.72,75.88 L73.81,75.83 L73.91,75.79 L74.00,75.74 L74.10,75.70 L74.19,75.65 L74.28,75.61 L74.38,75.56 L74.47,75.52 L74.57,75.48 L74.66,75.43 L74.66,75.43 L75.80,74.93 L76.94,74.45 L78.08,73.99 L79.22,73.57 L80.36,73.16 L81.50,72.78 L82.64,72.41 L83.78,72.06 L84.92,71.73 L86.06,71.42 L87.20,71.12 L88.34,70.83 L89.48,70.55 L90.62,70.29 L91.76,70.03 L92.90,69.79 L94.04,69.56 L95.18,69.33 L96.32,69.12 L97.46,68.91 L98.60,68.71 L99.74,68.52 L100.88,68.34 L102.02,68.16 L103.16,67.98 L104.30,67.82 L105.44,67.66 L106.58,67.50 L107.72,67.35 L108.86,67.20 L110.00,67.06 L111.14,66.92 L112.28,66.79 L113.42,66.66 L114.56,66.53 L115.70,66.41 L116.84,66.29 L117.98,66.18 L119.12,66.07 L120.26,65.96 L121.41,65.85 L122.55,65.75 L123.69,65.65 L124.83,65.55 L125.97,65.46 L127.11,65.36 L128.25,65.27 L129.39,65.19 L130.53,65.10 L131.67,65.01 L132.81,64.93 L133.95,64.85 L135.09,64.77 L136.23,64.70 L137.37,64.62 L138.51,64.55 L139.65,64.48 L140.79,64.41 L141.93,64.34 L143.07,64.27 L144.21,64.21 L145.35,64.14 L146.49,64.08 L147.63,64.02 L148.77,63.96 L149.91,63.90 L151.05,63.84 L152.19,63.79 L153.33,63.73 L154.47,63.68 L155.61,63.62 L156.75,63.57 L157.89,63.52 L159.03,63.47 L160.17,63.42 L161.31,63.37 L162.45,63.32 L163.59,63.28 L164.73,63.23 L165.87,63.18 L167.01,63.14 L168.15,63.10 L169.29,63.05 L170.43,63.01 L171.57,62.97 L172.71,62.93 L173.85,62.89 L174.99,62.85 L176.13,62.81 L177.27,62.77 L178.41,62.74 L179.55,62.70 L180.69,62.66 L181.83,62.63 L182.97,62.59 L184.11,62.56 L185.25,62.52 L186.39,62.49 L187.53,62.46 L188.67,62.42 L189.81,62.39 L190.95,62.36 L192.09,62.33 L193.23,62.30 L194.37,62.27 L195.51,62.24 L196.65,62.21 L197.79,62.18 L198.93,62.15 L200.07,62.12 L201.21,62.09 L202.35,62.07 L203.49,62.04 L204.63,62.01 L205.77,61.99 L206.91,61.96 L208.05,61.94 L209.19,61.91 L210.33,61.88 L211.47,61.86 L212.62,61.84 L213.76,61.81 L214.90,61.79 L216.04,61.76 L217.18,61.74 L218.32,61.72 L219.46,61.70 L220.60,61.67 L221.74,61.65 L222.88,61.63 L224.02,61.61 L225.16,61.59 L226.30,61.57 L227.44,61.55 L228.58,61.53 L229.72,61.51 L230.86,61.49 L232.00,61.47 L233.14,61.45 L234.28,61.43 L235.42,61.41 L236.56,61.39 L237.70,61.37 L238.84,61.35 L239.98,61.33 L241.12,61.32 L242.26,61.30 L243.40,61.28 L244.54,61.26 L245.68,61.25 L246.82,61.23 L247.96,61.21 L249.10,61.20 L250.24,61.18 L251.38,61.16 L252.52,61.15 L253.66,61.13 L254.80,61.12 L255.94,61.10 L257.08,61.08 L258.22,61.07 L259.36,61.05 L260.50,61.04 L261.64,61.02 L262.78,61.01 L263.92,60.99 L265.06,60.98 L266.20,60.97 L267.34,60.95 L268.48,60.94 L269.62,60.92 L270.76,60.91 L271.90,60.90 L273.04,60.88 L274.18,60.87 L275.32,60.86 L276.46,60.84 L277.60,60.83 L278.74,60.82 L279.88,60.81 L281.02,60.79 L282.16,60.78 L283.30,60.77 L284.44,60.76 L285.58,60.74 L286.72,60.73 L287.86,60.72 L289.00,60.71 L290.14,60.70 L291.28,60.68 L292.42,60.67 L293.56,60.66 L294.70,60.65 L295.84,60.64 L296.98,60.63 L298.12,60.62 L299.26,60.61 L300.40,60.60 L301.54,60.59 L302.68,60.57 L303.83,60.56 L304.97,60.55 L306.11,60.54 L307.25,60.53 L308.39,60.52 L309.53,60.51 L310.67,60.50 L311.81,60.49 L312.95,60.48 L314.09,60.47 L315.23,60.46 L316.37,60.45 L317.51,60.44 L318.65,60.44 L319.79,60.43 L320.93,60.42 L322.07,60.41 L323.21,60.40 L324.35,60.39 L325.49,60.38 L326.63,60.37 L327.77,60.36 L328.91,60.35 L330.05,60.34 L331.19,60.34 L332.33,60.33 L333.47,60.32 L334.61,60.31 L335.75,60.30 L336.89,60.29 L338.03,60.29 L339.17,60.28 L340.31,60.27 L341.45,60.26 L342.59,60.25 L343.73,60.25 L344.87,60.24 L346.01,60.23 L347.15,60.22 L348.29,60.21 L349.43,60.21 L350.57,60.20 L351.71,60.19 L352.85,60.18 L353.99,60.18 L355.13,60.17 L356.27,60.16 L357.41,60.15 L358.55,60.15 L359.69,60.14 L360.83,60.13 L361.97,60.13 L363.11,60.12 L364.25,60.11 L365.39,60.10 L366.53,60.10 L367.67,60.09 L368.81,60.08 L369.95,60.08 L371.09,60.07 L372.23,60.06 L373.37,60.06 L374.51,60.05 L375.65,60.04 L376.79,60.04 L377.93,60.03 L379.07,60.03 L380.21,60.02 L381.35,60.01 L382.49,60.01 L383.63,60.00 L384.77,59.99 L385.91,59.99 L387.05,59.98 L388.19,59.98 L389.33,59.97 L390.47,59.96 L391.61,59.96 L392.75,59.95 L393.89,59.95 L395.04,59.94 L396.18,59.93 L397.32,59.93 L398.46,59.92 L399.60,59.92 L400.74,59.91 L401.88,59.91 L403.02,59.90 L404.16,59.89 L405.30,59.89 L406.44,59.88 L407.58,59.88 L408.72,59.87 L409.86,59.87 L411.00,59.86 L412.14,59.86 L413.28,59.85 L414.42,59.85 L415.56,59.84" stroke="#0000ff" stroke-width="2.05"/>
</g>
<g fill="#000" opacity="0.999">
<text transform="translate(112.41999999999999,356) scale(1,1.2)" font-size="14.6" text-anchor="middle" >20</text>
<text transform="translate(187.94,356) scale(1,1.2)" font-size="14.6" text-anchor="middle" >40</text>
<text transform="translate(263.46,356) scale(1,1.2)" font-size="14.6" text-anchor="middle" >60</text>
<text transform="translate(338.97999999999996,356) scale(1,1.2)" font-size="14.6" text-anchor="middle" >80</text>
<text transform="translate(414.59999999999997,356) scale(1,1.2)" font-size="14.6" text-anchor="middle" >100</text>
<text transform="translate(32.9,71.75) scale(1,1.2)" font-size="14.6" text-anchor="end" >1.000</text>
<text transform="translate(32.9,133.45000000000005) scale(1,1.2)" font-size="14.6" text-anchor="end" >0.999</text>
<text transform="translate(32.9,195.1500000000001) scale(1,1.2)" font-size="14.6" text-anchor="end" >0.998</text>
<text transform="translate(32.9,256.85000000000014) scale(1,1.2)" font-size="14.6" text-anchor="end" >0.997</text>
<text transform="translate(32.9,318.5500000000002) scale(1,1.2)" font-size="14.6" text-anchor="end" >0.996</text>
<text transform="translate(431.8,344.5) scale(1,1.08)" font-size="19" text-anchor="start" font-style="italic">a</text>
<text transform="translate(36.6,12.2) scale(1,1.05)" font-size="18.5" text-anchor="middle" font-style="italic">η</text>
<text transform="translate(28.8,45.7) scale(1,1.05)" font-size="18.5" text-anchor="start" font-style="italic">η</text>
<text transform="translate(38.2,49.2) scale(1,1.02)" font-size="12.5" text-anchor="start" font-style="italic">c</text>
<text transform="translate(302.1,178.4) scale(1,1.11)" font-size="18.8" text-anchor="start" >Q<tspan dy="2.1">=</tspan><tspan dy="-2.1">1</tspan></text>
<text transform="translate(302.1,208.2) scale(1,1.11)" font-size="18.8" text-anchor="start" >Q<tspan dy="2.1">=</tspan><tspan dy="-2.1">3</tspan></text>
<text transform="translate(302.1,237.5) scale(1,1.11)" font-size="18.8" text-anchor="start" >Q<tspan dy="2.1">=</tspan><tspan dy="-2.1">5</tspan></text>
</g>
<line x1="29" y1="22.9" x2="45.5" y2="22.9" stroke="#333" stroke-width="1.35"/>
<line x1="271.2" y1="173.1" x2="295.5" y2="173.1" stroke="#ff0000" stroke-width="2.5" stroke-dasharray="7.4 2.3"/>
<line x1="271.2" y1="202.7" x2="293" y2="202.7" stroke="#00ff00" stroke-width="2.5" stroke-dasharray="3.7 2.45"/>
<line x1="271.2" y1="232.5" x2="295" y2="232.5" stroke="#0000ff" stroke-width="2.4"/>
</svg>
</body></html>
